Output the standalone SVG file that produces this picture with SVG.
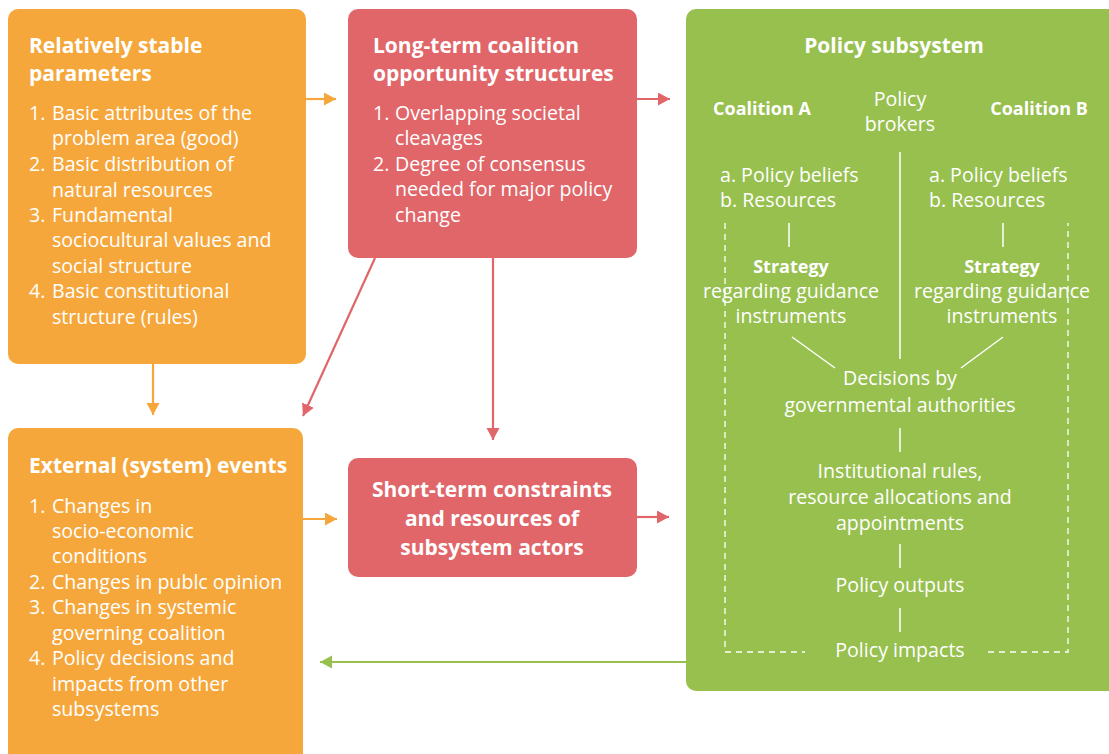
<svg xmlns="http://www.w3.org/2000/svg" width="1109" height="754" viewBox="0 0 1109 754">
<style>
.or{fill:#F6A73C}
.rd{fill:#E16669}
.gr{fill:#97C04F}
text{fill:#fff;font-family:"Open Sans","Noto Sans","Liberation Sans",sans-serif}
.t{font-size:21px;font-weight:bold}
.s{font-size:18px;font-weight:bold}
.b{font-size:19.6px}
.m{text-anchor:middle}
.wl{stroke:#fff;stroke-width:1.5;fill:none}
.dash{stroke:#fff;stroke-width:1.3;fill:none;stroke-dasharray:6 5}
.ao{stroke:#F6A73C;stroke-width:2.2;fill:none}
.ar{stroke:#E16669;stroke-width:2.2;fill:none}
.ag{stroke:#97C04F;stroke-width:2.2;fill:none}
</style>
<defs>
<marker id="mo" markerUnits="userSpaceOnUse" markerWidth="14" markerHeight="14" refX="12" refY="6.5" orient="auto"><path d="M0,0 L12,6.5 L0,13 Z" fill="#F6A73C"/></marker>
<marker id="mr" markerUnits="userSpaceOnUse" markerWidth="14" markerHeight="14" refX="12" refY="6.5" orient="auto"><path d="M0,0 L12,6.5 L0,13 Z" fill="#E16669"/></marker>
<marker id="mg" markerUnits="userSpaceOnUse" markerWidth="14" markerHeight="14" refX="12" refY="6.5" orient="auto"><path d="M0,0 L12,6.5 L0,13 Z" fill="#97C04F"/></marker>
</defs>
<rect width="1109" height="754" fill="#fff"/>

<g id="connectors">
<line class="ao" x1="306" y1="99" x2="336" y2="99" marker-end="url(#mo)"/>
<line class="ar" x1="637" y1="99" x2="670" y2="99" marker-end="url(#mr)"/>
<line class="ao" x1="153" y1="364" x2="153" y2="415" marker-end="url(#mo)"/>
<line class="ar" x1="375" y1="258" x2="303" y2="416" marker-end="url(#mr)"/>
<line class="ar" x1="493" y1="258" x2="493" y2="440" marker-end="url(#mr)"/>
<line class="ao" x1="303" y1="519" x2="337" y2="519" marker-end="url(#mo)"/>
<line class="ar" x1="637" y1="517" x2="669" y2="517" marker-end="url(#mr)"/>
<line class="ag" x1="686" y1="662" x2="320" y2="662" marker-end="url(#mg)"/>
</g>

<g id="stable-parameters">
<rect class="or" x="8" y="9" width="298" height="355" rx="10"/>
<text class="t" x="29" y="53">Relatively stable</text>
<text class="t" x="29" y="81">parameters</text>
<text class="b">
<tspan x="29" y="120">1.</tspan><tspan x="52" y="120">Basic attributes of the</tspan>
<tspan x="52" y="145">problem area (good)</tspan>
<tspan x="29" y="171">2.</tspan><tspan x="52" y="171">Basic distribution of</tspan>
<tspan x="52" y="197">natural resources</tspan>
<tspan x="29" y="222">3.</tspan><tspan x="52" y="222">Fundamental</tspan>
<tspan x="52" y="247">sociocultural values and</tspan>
<tspan x="52" y="273">social structure</tspan>
<tspan x="29" y="298">4.</tspan><tspan x="52" y="298">Basic constitutional</tspan>
<tspan x="52" y="324">structure (rules)</tspan>
</text>
</g>

<g id="long-term">
<rect class="rd" x="348" y="9" width="289" height="249" rx="10"/>
<text class="t" x="373" y="53">Long-term coalition</text>
<text class="t" x="373" y="81">opportunity structures</text>
<text class="b">
<tspan x="373" y="120">1.</tspan><tspan x="395" y="120">Overlapping societal</tspan>
<tspan x="395" y="145">cleavages</tspan>
<tspan x="373" y="171">2.</tspan><tspan x="395" y="171">Degree of consensus</tspan>
<tspan x="395" y="196">needed for major policy</tspan>
<tspan x="395" y="222">change</tspan>
</text>
</g>

<g id="external-events">
<rect class="or" x="8" y="428" width="295" height="340" rx="10"/>
<text class="t" x="29" y="473">External (system) events</text>
<text class="b">
<tspan x="29" y="513">1.</tspan><tspan x="52" y="513">Changes in</tspan>
<tspan x="52" y="538">socio-economic</tspan>
<tspan x="52" y="563">conditions</tspan>
<tspan x="29" y="589">2.</tspan><tspan x="52" y="589">Changes in publc opinion</tspan>
<tspan x="29" y="614">3.</tspan><tspan x="52" y="614">Changes in systemic</tspan>
<tspan x="52" y="640">governing coalition</tspan>
<tspan x="29" y="665">4.</tspan><tspan x="52" y="665">Policy decisions and</tspan>
<tspan x="52" y="691">impacts from other</tspan>
<tspan x="52" y="716">subsystems</tspan>
</text>
</g>

<g id="short-term">
<rect class="rd" x="348" y="458" width="289" height="119" rx="10"/>
<text class="t m" x="492" y="497">Short-term constraints</text>
<text class="t m" x="492" y="526">and resources of</text>
<text class="t m" x="492" y="555">subsystem actors</text>
</g>

<g id="policy-subsystem">
<rect class="gr" x="686" y="9" width="432" height="682" rx="10"/>
<text class="t m" x="894" y="53">Policy subsystem</text>
<text class="s m" x="762" y="115">Coalition A</text>
<text class="s m" x="1039" y="115">Coalition B</text>
<text class="b m" x="900" y="106">Policy</text>
<text class="b m" x="900" y="131">brokers</text>
<text class="b" x="720" y="182">a. Policy beliefs</text>
<text class="b" x="720" y="207">b. Resources</text>
<text class="b" x="929" y="182">a. Policy beliefs</text>
<text class="b" x="929" y="207">b. Resources</text>
<line class="wl" x1="900" y1="152" x2="900" y2="359"/>
<line class="wl" x1="789" y1="223" x2="789" y2="247"/>
<line class="wl" x1="1003" y1="223" x2="1003" y2="247"/>
<text class="s m" x="791" y="273">Strategy</text>
<text class="b m" x="791" y="298">regarding guidance</text>
<text class="b m" x="791" y="323">instruments</text>
<text class="s m" x="1002" y="273">Strategy</text>
<text class="b m" x="1002" y="298">regarding guidance</text>
<text class="b m" x="1002" y="323">instruments</text>
<line class="wl" x1="792" y1="337" x2="835" y2="368"/>
<line class="wl" x1="1003" y1="337" x2="961" y2="368"/>
<path class="dash" d="M725,223 V652 H805 M988,652 H1068 V223"/>
<text class="b m" x="900" y="385">Decisions by</text>
<text class="b m" x="900" y="412">governmental authorities</text>
<line class="wl" x1="900" y1="428" x2="900" y2="452"/>
<text class="b m" x="900" y="478">Institutional rules,</text>
<text class="b m" x="900" y="504">resource allocations and</text>
<text class="b m" x="900" y="530">appointments</text>
<line class="wl" x1="900" y1="544" x2="900" y2="568"/>
<text class="b m" x="900" y="592">Policy outputs</text>
<line class="wl" x1="900" y1="608" x2="900" y2="632"/>
<text class="b m" x="900" y="657">Policy impacts</text>
</g>
</svg>
